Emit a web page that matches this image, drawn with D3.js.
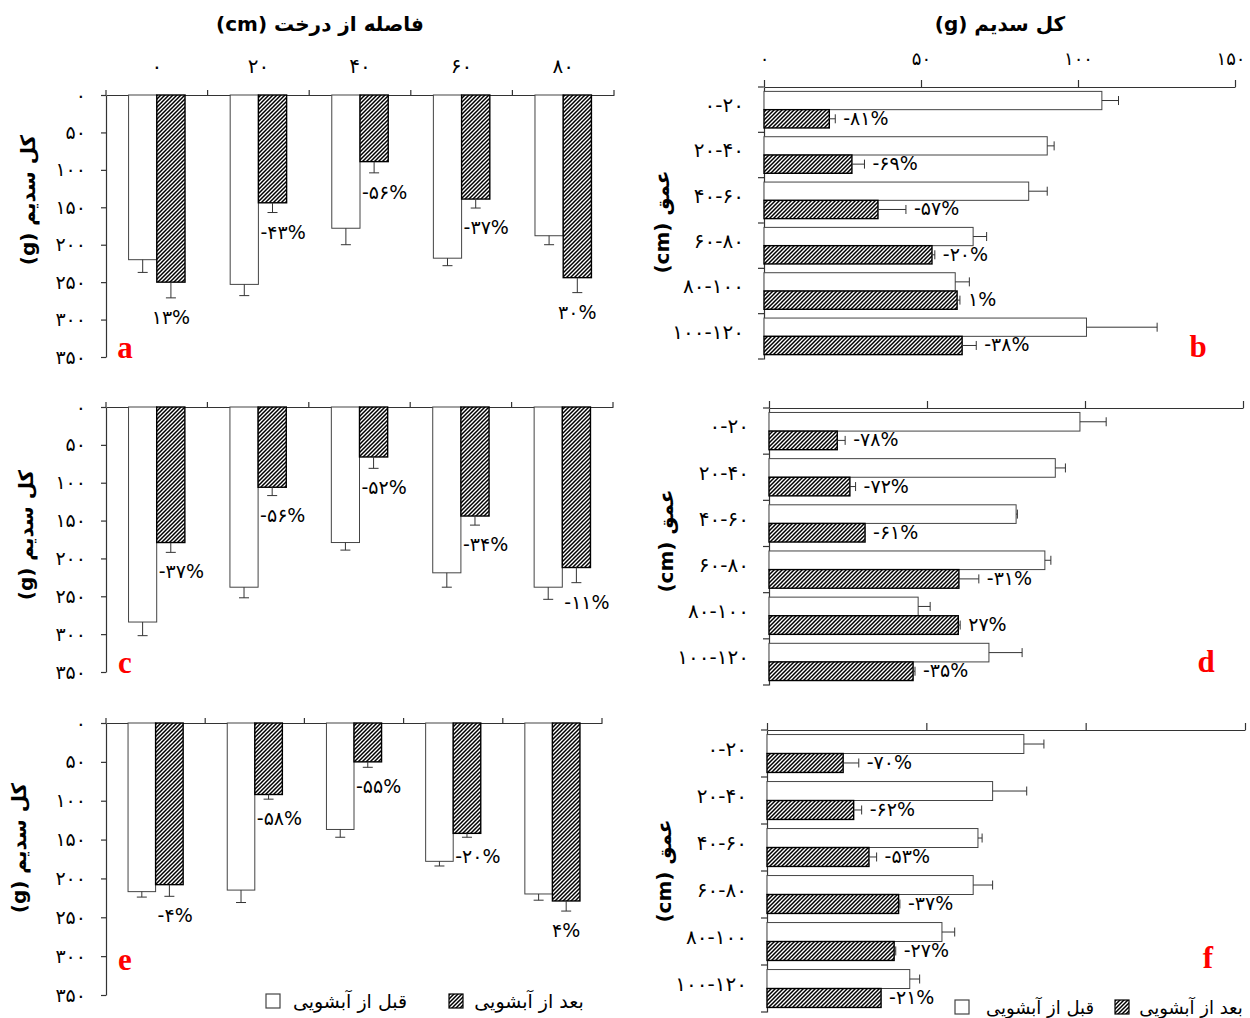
<!DOCTYPE html>
<html>
<head>
<meta charset="utf-8">
<script src="https://cdn.jsdelivr.net/npm/d3@7"></script>
<style>
  html, body { margin: 0; padding: 0; background: #ffffff; }
  svg { display: block; }
</style>
</head>
<body>
<script>
// ---------------- DATA ----------------
const distCats = ["۰", "۲۰", "۴۰", "۶۰", "۸۰"];
const depthCats = ["۰-۲۰", "۲۰-۴۰", "۴۰-۶۰", "۶۰-۸۰", "۸۰-۱۰۰", "۱۰۰-۱۲۰"];
const vTickValues = [0, 50, 100, 150, 200, 250, 300, 350];
const vTickLabels = ["۰", "۵۰", "۱۰۰", "۱۵۰", "۲۰۰", "۲۵۰", "۳۰۰", "۳۵۰"];
const hTickValues = [0, 50, 100, 150];
const hTickLabels = ["۰", "۵۰", "۱۰۰", "۱۵۰"];

// panel a
const aBefore = [220, 253, 178, 218, 188];
const aBeforeErr = [17, 15, 22, 10, 12];
const aAfter = [250, 144, 89, 139, 244];
const aAfterErr = [21, 13, 15, 12, 20];
const aLabels = ["۱۳%", "-۴۳%", "-۵۶%", "-۳۷%", "۳۰%"];
// panel c
const cBefore = [284, 238, 179, 219, 238];
const cBeforeErr = [18, 14, 10, 19, 16];
const cAfter = [179, 106, 66, 144, 212];
const cAfterErr = [13, 11, 15, 12, 20];
const cLabels = ["-۳۷%", "-۵۶%", "-۵۲%", "-۳۴%", "-۱۱%"];
// panel e
const eBefore = [217, 215, 137, 178, 220];
const eBeforeErr = [7, 16, 10, 6, 8];
const eAfter = [208, 92, 50, 142, 229];
const eAfterErr = [15, 6, 7, 5, 13];
const eLabels = ["-۴%", "-۵۸%", "-۵۵%", "-۲۰%", "۴%"];
// panel b
const bBefore = [107.6, 90.2, 84.3, 66.6, 60.9, 102.7];
const bBeforeErr = [5.3, 2.2, 5.9, 4.3, 4.5, 22.5];
const bAfter = [20.8, 28, 36.3, 53.5, 61.5, 63.1];
const bAfterErr = [1.9, 4, 8.9, 0.9, 0.9, 4.5];
const bLabels = ["-۸۱%", "-۶۹%", "-۵۷%", "-۲۰%", "۱%", "-۳۸%"];
// panel d
const dBefore = [98.4, 90.6, 78.2, 87.3, 47.2, 69.6];
const dBeforeErr = [8.3, 3.2, 0.4, 1.9, 3.8, 10.5];
const dAfter = [21.6, 25.6, 30.4, 60.1, 59.9, 45.6];
const dAfterErr = [2.5, 1.8, 0, 6.3, 0.6, 0.6];
const dLabels = ["-۷۸%", "-۷۲%", "-۶۱%", "-۳۱%", "۲۷%", "-۳۵%"];
// panel f
const fBefore = [80.6, 70.8, 66.2, 64.7, 54.9, 44.8];
const fBeforeErr = [6.3, 10.7, 1.3, 6.1, 4, 3.1];
const fAfter = [23.9, 27.2, 32, 41.3, 39.9, 35.8];
const fAfterErr = [4.9, 2.5, 2.4, 0.4, 0.5, 0];
const fLabels = ["-۷۰%", "-۶۲%", "-۵۳%", "-۳۷%", "-۲۷%", "-۲۱%"];

const seriesKeys = ["before", "after"];
const legendLabels = ["قبل از آبشویی", "بعد از آبشویی"];
const distTitle = "فاصله از درخت (cm)";
const sodiumTitle = "کل سدیم (g)";
const depthTitle = "عمق (cm)";

// ---------------- DRAWING ----------------
const FONT = "DejaVu Sans, sans-serif";
const svg = d3.select("body").append("svg")
  .attr("width", 1250).attr("height", 1018)
  .style("font-family", FONT);

const defs = svg.append("defs");
const pat = defs.append("pattern")
  .attr("id", "hatch").attr("patternUnits", "userSpaceOnUse")
  .attr("width", 4).attr("height", 4);
pat.append("rect").attr("width", 4).attr("height", 4).attr("fill", "#fff");
pat.append("path")
  .attr("d", "M-1,1 l2,-2 M0,4 l4,-4 M3,5 l2,-2")
  .attr("stroke", "#000").attr("stroke-width", 1.5);

const axisColor = "#333";
const NUM_SIZE = 19;

function styleAxis(g, size) {
  g.attr("font-family", FONT);
  g.selectAll("path.domain").attr("stroke", axisColor).attr("stroke-width", 1.2);
  g.selectAll(".tick line").attr("stroke", axisColor).attr("stroke-width", 1.2);
  g.selectAll(".tick text").attr("font-size", size || NUM_SIZE).attr("fill", "#000");
}

function letterText(g, x, y, letter) {
  g.append("text").attr("x", x).attr("y", y)
    .attr("text-anchor", "middle").attr("dominant-baseline", "central")
    .style("font-family", "'Liberation Serif', 'DejaVu Serif', serif")
    .attr("font-weight", "bold")
    .attr("font-size", 31).attr("fill", "#ff0000")
    .text(letter);
}

function vPanel(cfg) {
  const x = d3.scaleBand().domain(distCats).range([cfg.x0, cfg.x1]);
  const xs = d3.scaleBand().domain(seriesKeys).range([0, x.bandwidth()])
    .paddingOuter(0.8).paddingInner(0);
  const y = d3.scaleLinear().domain([0, 350]).range([cfg.y0, cfg.y1]);
  const g = svg.append("g");

  const ya = g.append("g").attr("transform", `translate(${cfg.x0},0)`)
    .call(d3.axisLeft(y).tickValues(vTickValues)
      .tickFormat((d, i) => vTickLabels[i]).tickSize(5).tickSizeOuter(0).tickPadding(15));
  styleAxis(ya);

  const xa = g.append("g").attr("transform", `translate(0,${cfg.y0})`)
    .call(d3.axisTop(x).tickSize(0).tickPadding(22)
      .tickFormat(d => cfg.showCats ? d : ""));
  styleAxis(xa, 20);
  const bounds = distCats.map(d => x(d)).concat([cfg.x1]);
  g.selectAll("line.bound").data(bounds).join("line")
    .attr("x1", d => d).attr("x2", d => d)
    .attr("y1", cfg.y0 - 5).attr("y2", cfg.y0)
    .attr("stroke", axisColor).attr("stroke-width", 1.2);

  const bw = xs.bandwidth();
  distCats.forEach((c, i) => {
    const vb = cfg.before[i], eb = cfg.beforeErr[i];
    const va = cfg.after[i], ea = cfg.afterErr[i];
    const bx = x(c) + xs("before");
    g.append("rect").attr("x", bx).attr("y", cfg.y0)
      .attr("width", bw).attr("height", y(vb) - cfg.y0)
      .attr("fill", "#fff").attr("stroke", "#444").attr("stroke-width", 1);
    const ax = x(c) + xs("after");
    g.append("rect").attr("x", ax).attr("y", cfg.y0)
      .attr("width", bw).attr("height", y(va) - cfg.y0)
      .attr("fill", "url(#hatch)").attr("stroke", "#000").attr("stroke-width", 1.4);
    [[bx, vb, eb], [ax, va, ea]].forEach(([px, v, e]) => {
      const cx = px + bw / 2;
      g.append("line").attr("x1", cx).attr("x2", cx)
        .attr("y1", y(v)).attr("y2", y(v + e))
        .attr("stroke", "#333").attr("stroke-width", 1);
      g.append("line").attr("x1", cx - 5).attr("x2", cx + 5)
        .attr("y1", y(v + e)).attr("y2", y(v + e))
        .attr("stroke", "#333").attr("stroke-width", 1);
    });
    const lab = cfg.labels[i];
    const neg = lab.startsWith("-");
    g.append("text")
      .attr("x", neg ? ax + 2 : ax + bw / 2)
      .attr("y", y(va + ea) + 19)
      .attr("text-anchor", neg ? "start" : "middle")
      .attr("dominant-baseline", "central")
      .attr("font-size", NUM_SIZE)
      .text(lab);
  });

  g.append("text")
    .attr("transform", `translate(${cfg.titleX},${cfg.titleY}) rotate(-90)`)
    .attr("direction", "rtl").attr("text-anchor", "middle")
    .attr("dominant-baseline", "central")
    .attr("font-size", 20).attr("font-weight", "bold")
    .text(sodiumTitle);

  letterText(g, cfg.x0 + 19, cfg.letterY, cfg.letter);
}

function hPanel(cfg) {
  const y = d3.scaleBand().domain(depthCats).range([cfg.y0, cfg.y1]);
  const ys = d3.scaleBand().domain(seriesKeys).range([0, y.bandwidth()])
    .paddingOuter(0.24).paddingInner(0);
  const x = d3.scaleLinear().domain([0, 150]).range([cfg.x0, cfg.x1]);
  const g = svg.append("g");

  const xa = g.append("g").attr("transform", `translate(0,${cfg.y0})`)
    .call(d3.axisTop(x).tickValues(hTickValues)
      .tickFormat((d, i) => cfg.showTicks ? hTickLabels[i] : "")
      .tickSize(7).tickSizeOuter(0).tickPadding(15));
  styleAxis(xa, 18);
  // keep the last tick label inside the page edge
  xa.selectAll(".tick text").filter(d => d === 150).attr("dx", "-0.25em");

  const ya = g.append("g").attr("transform", `translate(${cfg.x0},0)`)
    .call(d3.axisLeft(y).tickSize(0).tickPadding(20));
  styleAxis(ya, 20);
  ya.selectAll(".tick text").attr("dy", "0.12em");
  const bounds = depthCats.map(d => y(d)).concat([cfg.y1]);
  g.selectAll("line.bound").data(bounds).join("line")
    .attr("x1", cfg.x0 - 6).attr("x2", cfg.x0)
    .attr("y1", d => d).attr("y2", d => d)
    .attr("stroke", axisColor).attr("stroke-width", 1.2);

  const bh = ys.bandwidth();
  depthCats.forEach((c, i) => {
    const by = y(c) + ys("before");
    const ay = y(c) + ys("after");
    g.append("rect").attr("x", cfg.x0).attr("y", by)
      .attr("width", x(cfg.before[i]) - cfg.x0).attr("height", bh)
      .attr("fill", "#fff").attr("stroke", "#444").attr("stroke-width", 1);
    g.append("rect").attr("x", cfg.x0).attr("y", ay)
      .attr("width", x(cfg.after[i]) - cfg.x0).attr("height", bh)
      .attr("fill", "url(#hatch)").attr("stroke", "#000").attr("stroke-width", 1.4);
    [[by, cfg.before[i], cfg.beforeErr[i]], [ay, cfg.after[i], cfg.afterErr[i]]].forEach(([py, v, e]) => {
      const cy = py + bh / 2;
      g.append("line").attr("x1", x(v)).attr("x2", x(v + e))
        .attr("y1", cy).attr("y2", cy)
        .attr("stroke", "#333").attr("stroke-width", 1);
      g.append("line").attr("x1", x(v + e)).attr("x2", x(v + e))
        .attr("y1", cy - 4.5).attr("y2", cy + 4.5)
        .attr("stroke", "#333").attr("stroke-width", 1);
    });
    g.append("text")
      .attr("x", x(cfg.after[i] + cfg.afterErr[i]) + 8)
      .attr("y", ay + bh / 2 - 1)
      .attr("dominant-baseline", "central")
      .attr("font-size", NUM_SIZE)
      .text(cfg.labels[i]);
  });

  g.append("text")
    .attr("transform", `translate(${cfg.titleX},${cfg.titleY}) rotate(-90)`)
    .attr("direction", "rtl").attr("text-anchor", "middle")
    .attr("dominant-baseline", "central")
    .attr("font-size", 20).attr("font-weight", "bold")
    .text(depthTitle);

  letterText(g, cfg.x1 - 37, cfg.letterY, cfg.letter);
}

vPanel({ x0: 106, x1: 614, y0: 95, y1: 357, before: aBefore, beforeErr: aBeforeErr,
  after: aAfter, afterErr: aAfterErr, labels: aLabels, showCats: true,
  titleX: 28, titleY: 200, letter: "a", letterY: 347 });
vPanel({ x0: 106, x1: 613, y0: 407, y1: 672, before: cBefore, beforeErr: cBeforeErr,
  after: cAfter, afterErr: cAfterErr, labels: cLabels, showCats: false,
  titleX: 26, titleY: 535, letter: "c", letterY: 662 });
vPanel({ x0: 106, x1: 602, y0: 723, y1: 995, before: eBefore, beforeErr: eBeforeErr,
  after: eAfter, afterErr: eAfterErr, labels: eLabels, showCats: false,
  titleX: 19, titleY: 848, letter: "e", letterY: 959 });

hPanel({ x0: 764, x1: 1235, y0: 87, y1: 359, before: bBefore, beforeErr: bBeforeErr,
  after: bAfter, afterErr: bAfterErr, labels: bLabels, showTicks: true,
  titleX: 662, titleY: 222, letter: "b", letterY: 346 });
hPanel({ x0: 769, x1: 1243, y0: 408, y1: 685, before: dBefore, beforeErr: dBeforeErr,
  after: dAfter, afterErr: dAfterErr, labels: dLabels, showTicks: false,
  titleX: 666, titleY: 541, letter: "d", letterY: 661 });
hPanel({ x0: 767, x1: 1245, y0: 730, y1: 1012, before: fBefore, beforeErr: fBeforeErr,
  after: fAfter, afterErr: fAfterErr, labels: fLabels, showTicks: false,
  titleX: 664, titleY: 871, letter: "f", letterY: 957 });

// top titles
svg.append("text").attr("x", 320).attr("y", 24)
  .attr("direction", "rtl").attr("text-anchor", "middle").attr("dominant-baseline", "central")
  .attr("font-size", 20).attr("font-weight", "bold").text(distTitle);
svg.append("text").attr("x", 1000).attr("y", 24)
  .attr("direction", "rtl").attr("text-anchor", "middle").attr("dominant-baseline", "central")
  .attr("font-size", 20).attr("font-weight", "bold").text(sodiumTitle);

// legends
function legend(items, size) {
  items.forEach(it => {
    svg.append("rect").attr("x", it.bx).attr("y", it.cy - 7).attr("width", 14).attr("height", 14)
      .attr("fill", it.key === "before" ? "#fff" : "url(#hatch)")
      .attr("stroke", it.key === "before" ? "#444" : "#000").attr("stroke-width", 1.2);
    svg.append("text").attr("x", it.tx).attr("y", it.cy)
      .attr("direction", "rtl").attr("text-anchor", "middle").attr("dominant-baseline", "central")
      .attr("font-size", size).text(legendLabels[seriesKeys.indexOf(it.key)]);
  });
}
legend([
  { key: "before", bx: 266, tx: 350, cy: 1001 },
  { key: "after", bx: 449, tx: 529, cy: 1001 }
], 19);
legend([
  { key: "before", bx: 955, tx: 1040, cy: 1007 },
  { key: "after", bx: 1115, tx: 1191, cy: 1007 }
], 18);
</script>
</body>
</html>
